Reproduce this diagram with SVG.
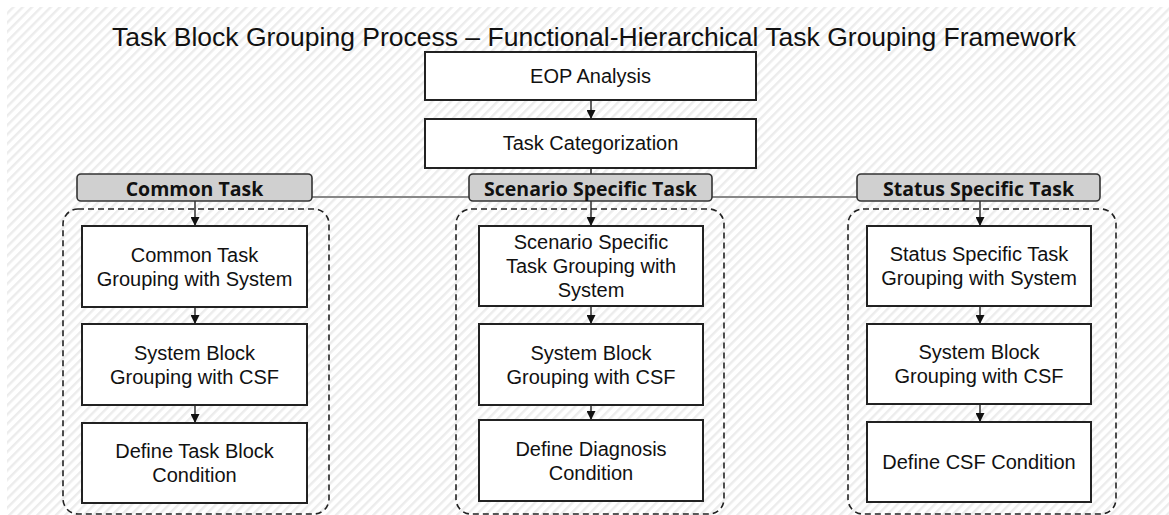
<svg xmlns="http://www.w3.org/2000/svg" width="1169" height="515" viewBox="0 0 1169 515">
  <style>
    .title { font-family: "Liberation Sans", Arial, sans-serif; font-size: 26.5px; fill: #111; text-anchor: middle; }
    .box { fill: #fff; stroke: #222; stroke-width: 2; }
    .hdr { fill: #d0d0d0; stroke: #333; stroke-width: 1.6; }
    .grp { fill: none; stroke: #222; stroke-width: 1.6; stroke-dasharray: 6 4; }
    .lbl { font-family: "Liberation Sans", Arial, sans-serif; font-size: 20px; fill: #111; text-anchor: middle; }
    .hlbl { font-family: "Open Sans", "Noto Sans", sans-serif; font-weight: 700; font-size: 19.5px; fill: #111; text-anchor: middle; }
    .arrow { stroke: #111; stroke-width: 1.3; fill: none; marker-end: url(#head); }
    .link { stroke: #888; stroke-width: 2; fill: none; }
  </style>
  <defs>
    <pattern id="hatch" patternUnits="userSpaceOnUse" width="6.6" height="6.6" patternTransform="rotate(45)">
      <rect width="6.6" height="6.6" fill="#ffffff"/>
      <rect width="2.4" height="6.6" fill="#ececec"/>
    </pattern>
    <marker id="head" viewBox="0 0 10 10" refX="10" refY="5" markerWidth="9" markerHeight="9" markerUnits="userSpaceOnUse" orient="auto">
      <path d="M0,0 L10,5 L0,10 Z" fill="#111"/>
    </marker>
  </defs>

  <!-- page background -->
  <rect width="1169" height="515" fill="#fff"/>
  <rect x="7" y="7" width="1170" height="520" rx="6" fill="url(#hatch)"/>

  <text class="title" x="594" y="46">Task Block Grouping Process – Functional-Hierarchical Task Grouping Framework</text>

  <!-- dashed group frames -->
  <g id="group-common"><rect class="grp" x="63" y="209" width="266" height="305" rx="15"/></g>
  <g id="group-scenario"><rect class="grp" x="456" y="209" width="268" height="305" rx="15"/></g>
  <g id="group-status"><rect class="grp" x="848" y="209" width="268" height="305" rx="15"/></g>

  <!-- connectors -->
  <g id="connectors">
    <line class="link" x1="194" y1="197" x2="979" y2="197"/>
    <line class="link" x1="591" y1="168" x2="591" y2="175" style="stroke:#555"/>
    <line class="arrow" x1="591" y1="100" x2="591" y2="119"/>
    <line class="arrow" x1="195" y1="201" x2="195" y2="226"/>
    <line class="arrow" x1="195" y1="307" x2="195" y2="324"/>
    <line class="arrow" x1="195" y1="405" x2="195" y2="423"/>
    <line class="arrow" x1="591" y1="201" x2="591" y2="226"/>
    <line class="arrow" x1="591" y1="306" x2="591" y2="324"/>
    <line class="arrow" x1="591" y1="405" x2="591" y2="420"/>
    <line class="arrow" x1="980" y1="201" x2="980" y2="226"/>
    <line class="arrow" x1="980" y1="306" x2="980" y2="324"/>
    <line class="arrow" x1="980" y1="404" x2="980" y2="422"/>
  </g>

  <!-- top chain -->
  <g id="eop-analysis">
    <rect class="box" x="425" y="52" width="331" height="48"/>
    <text class="lbl" x="590.5" y="83">EOP Analysis</text>
  </g>
  <g id="task-categorization">
    <rect class="box" x="425" y="119" width="331" height="49"/>
    <text class="lbl" x="590.5" y="150">Task Categorization</text>
  </g>

  <!-- category headers -->
  <g id="hdr-common">
    <rect class="hdr" x="77" y="174" width="235" height="27" rx="4"/>
    <text class="hlbl" x="194.5" y="196">Common Task</text>
  </g>
  <g id="hdr-scenario">
    <rect class="hdr" x="469" y="174" width="243" height="27" rx="4"/>
    <text class="hlbl" x="590.5" y="196">Scenario Specific Task</text>
  </g>
  <g id="hdr-status">
    <rect class="hdr" x="857" y="174" width="243" height="27" rx="4"/>
    <text class="hlbl" x="978.5" y="196">Status Specific Task</text>
  </g>

  <!-- common task column -->
  <g id="common-grouping">
    <rect class="box" x="82" y="226" width="225" height="81"/>
    <text class="lbl" x="194.5" y="261.5">Common Task</text>
    <text class="lbl" x="194.5" y="285.5">Grouping with System</text>
  </g>
  <g id="common-csf">
    <rect class="box" x="82" y="324" width="225" height="81"/>
    <text class="lbl" x="194.5" y="359.5">System Block</text>
    <text class="lbl" x="194.5" y="383.5">Grouping with CSF</text>
  </g>
  <g id="common-condition">
    <rect class="box" x="82" y="423" width="225" height="80"/>
    <text class="lbl" x="194.5" y="458">Define Task Block</text>
    <text class="lbl" x="194.5" y="482">Condition</text>
  </g>

  <!-- scenario specific column -->
  <g id="scenario-grouping">
    <rect class="box" x="479" y="226" width="224" height="80"/>
    <text class="lbl" x="591" y="249">Scenario Specific</text>
    <text class="lbl" x="591" y="273">Task Grouping with</text>
    <text class="lbl" x="591" y="297">System</text>
  </g>
  <g id="scenario-csf">
    <rect class="box" x="479" y="324" width="224" height="81"/>
    <text class="lbl" x="591" y="359.5">System Block</text>
    <text class="lbl" x="591" y="383.5">Grouping with CSF</text>
  </g>
  <g id="scenario-condition">
    <rect class="box" x="479" y="420" width="224" height="81"/>
    <text class="lbl" x="591" y="455.5">Define Diagnosis</text>
    <text class="lbl" x="591" y="479.5">Condition</text>
  </g>

  <!-- status specific column -->
  <g id="status-grouping">
    <rect class="box" x="867" y="226" width="224" height="80"/>
    <text class="lbl" x="979" y="261">Status Specific Task</text>
    <text class="lbl" x="979" y="285">Grouping with System</text>
  </g>
  <g id="status-csf">
    <rect class="box" x="867" y="324" width="224" height="80"/>
    <text class="lbl" x="979" y="359">System Block</text>
    <text class="lbl" x="979" y="383">Grouping with CSF</text>
  </g>
  <g id="status-condition">
    <rect class="box" x="867" y="422" width="224" height="80"/>
    <text class="lbl" x="979" y="469">Define CSF Condition</text>
  </g>
</svg>
